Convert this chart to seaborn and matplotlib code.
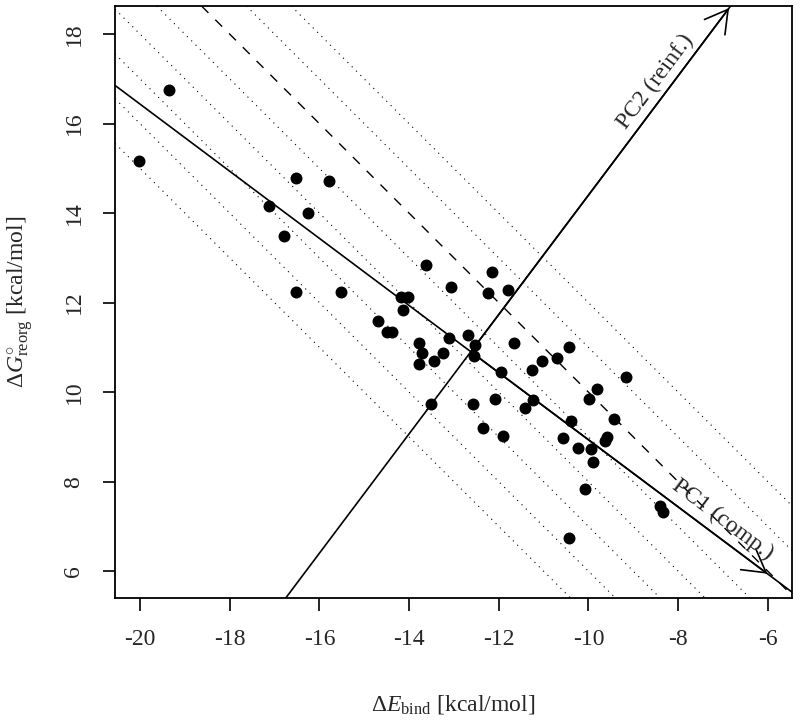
"""
Reorganisation free energy vs. binding energy with principal axes.
"""

import numpy as np
import matplotlib
matplotlib.use("Agg")
import matplotlib.pyplot as plt
import seaborn as sns

# values
dE_bind = [-19.35, -20.02, -16.53, -15.79, -17.12, -16.26, -16.78, -16.53, -15.53,
           -13.63, -13.07, -12.15, -12.24, -11.80, -14.17, -14.03, -14.13, -14.69,
           -14.50, -14.39, -13.12, -12.68, -12.52, -13.77, -13.72, -13.24, -13.44,
           -13.78, -12.55, -11.66, -11.26, -11.95, -13.51, -12.58, -12.09, -11.42,
           -11.23, -12.36, -11.91, -10.44, -11.03, -10.70, -9.16, -9.80, -9.98,
           -9.42, -10.39, -10.56, -9.59, -9.64, -10.23, -9.95, -9.90, -10.07,
           -10.44, -8.41, -8.34]
dG_reorg = [16.76, 15.17, 14.79, 14.71, 14.15, 14.01, 13.48, 12.23, 12.23,
            12.85, 12.36, 12.68, 12.22, 12.28, 12.12, 12.12, 11.84, 11.58,
            11.35, 11.35, 11.22, 11.28, 11.06, 11.09, 10.87, 10.88, 10.70,
            10.63, 10.80, 11.09, 10.50, 10.46, 9.74, 9.74, 9.85, 9.65,
            9.83, 9.20, 9.02, 11.01, 10.69, 10.76, 10.35, 10.06, 9.85,
            9.41, 9.36, 8.98, 9.00, 8.90, 8.76, 8.73, 8.43, 7.84,
            6.73, 7.45, 7.33]

# lines of constant dE_bind + dG_reorg
iso_levels = [-5, -4, -3, -2, -1, 0, 1, 2]
dashed_level = 0

x_ticks = [-20, -18, -16, -14, -12, -10, -8, -6]
y_ticks = [6, 8, 10, 12, 14, 16, 18]

sns.set_style("ticks")
plt.rcParams["font.family"] = ["Liberation Serif", "DejaVu Serif"]
plt.rcParams["mathtext.fontset"] = "custom"
plt.rcParams["mathtext.rm"] = "Liberation Serif"
plt.rcParams["mathtext.it"] = "Liberation Serif:italic"
plt.rcParams["axes.unicode_minus"] = False

fig = plt.figure(figsize=(8, 7.2), dpi=100)
ax = fig.add_axes([115 / 800, 1 - 598 / 720, 677 / 800, 592 / 720])
ax.set_xlim(-20.56, -5.46)
ax.set_ylim(5.40, 18.63)

for c in iso_levels:
    if c == dashed_level:
        ax.axline((0, c), slope=-1, color="black", lw=1.0, ls=(0, (7, 7)), zorder=1)
    else:
        ax.axline((0, c), slope=-1, color="black", lw=0.8, ls=(0, (1, 4.5)), zorder=1)

# principal axes through the mean
pts = np.column_stack([dE_bind, dG_reorg])
center = pts.mean(axis=0)
w, v = np.linalg.eigh(np.cov(pts.T))
pc1 = v[:, np.argmax(w)]
pc2 = v[:, np.argmin(w)]
if pc1[0] < 0:
    pc1 = -pc1
if pc2[1] < 0:
    pc2 = -pc2

for d in (pc1, pc2):
    ax.axline(center, center + d, color="black", lw=1.2, zorder=2)

arrow_len = {"pc1": 8.27, "pc2": 9.6}
head = dict(arrowstyle="->,head_length=1.6,head_width=0.92", mutation_scale=10,
            lw=1.2, color="black", shrinkA=0, shrinkB=0)
ax.annotate("", xy=center + pc1 * arrow_len["pc1"], xytext=center, arrowprops=head)
ax.annotate("", xy=center + pc2 * arrow_len["pc2"], xytext=center, arrowprops=head)

sns.scatterplot(x=dE_bind, y=dG_reorg, color="black", s=74, linewidth=0,
                legend=False, ax=ax, zorder=3)


def screen_angle(p, d):
    a = ax.transData.transform(p)
    b = ax.transData.transform(p + d)
    return np.degrees(np.arctan2(b[1] - a[1], b[0] - a[0]))


for d, t, off, label in [(pc1, 6.75, 12, "PC1 (comp.)"), (pc2, 7.3, 11, "PC2 (reinf.)")]:
    p = center + d * t
    ang = screen_angle(p, d)
    nx, ny = -np.sin(np.radians(ang)) * off, np.cos(np.radians(ang)) * off
    ax.annotate(label, xy=p, xytext=(nx, ny), textcoords="offset points",
                ha="center", va="center", rotation=ang, rotation_mode="anchor",
                fontsize=17)

ax.set_xticks(x_ticks)
ax.set_yticks(y_ticks)
ax.tick_params(axis="both", direction="out", length=9, width=1.2, labelsize=17,
               pad=13, color="black")
ax.tick_params(axis="y", labelrotation=90)
for lbl in ax.get_yticklabels():
    lbl.set_va("center")
for s in ax.spines.values():
    s.set_visible(True)
    s.set_linewidth(1.3)
    s.set_color("black")

ax.set_xlabel("Δ$E_{\\mathrm{bind}}$ [kcal/mol]", fontsize=17, va="center")
ax.xaxis.set_label_coords(0.5, -107 / 592)
ax.set_ylabel("Δ$G^{\\circ}_{\\mathrm{reorg}}$ [kcal/mol]", fontsize=17, va="center")
ax.yaxis.set_label_coords(-95 / 677, 0.5)

fig.savefig("out.png", dpi=100, facecolor="white")
